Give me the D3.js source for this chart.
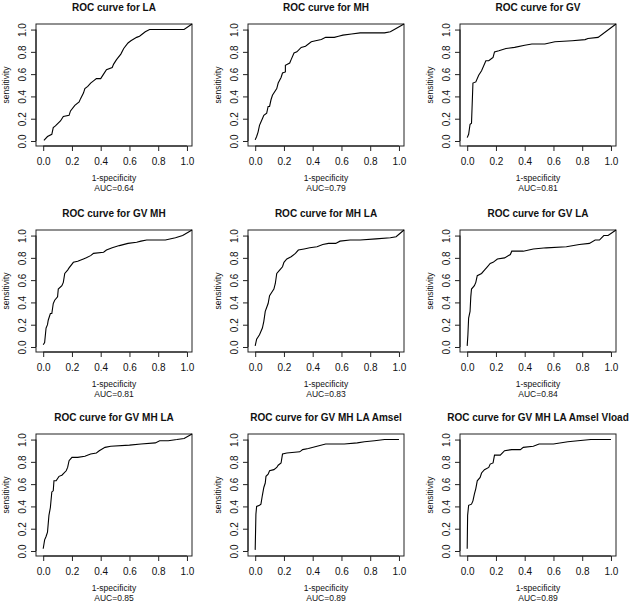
<!DOCTYPE html>
<html>
<head>
<meta charset="utf-8">
<script src="https://cdn.jsdelivr.net/npm/d3@7"></script>
<style>
  body { margin: 0; background: #fff; }
  text { font-family: "Liberation Sans", Arial, sans-serif; fill: #111; }
</style>
</head>
<body>
<svg id="chart" width="632" height="604"></svg>
<script>
// titres et AUC des 9 panneaux
const titles = ["ROC curve for LA", "ROC curve for MH", "ROC curve for GV",
  "ROC curve for GV MH", "ROC curve for MH LA", "ROC curve for GV LA",
  "ROC curve for GV MH LA", "ROC curve for GV MH LA Amsel", "ROC curve for GV MH LA Amsel Vload"];
const aucs = ["0.64", "0.79", "0.81", "0.81", "0.83", "0.84", "0.85", "0.89", "0.89"];
const ticks = [0, 0.2, 0.4, 0.6, 0.8, 1.0];

// courbes [1-specificity, sensitivity]
const rocLA = [[0.005,0.006],[0.03,0.04],[0.06,0.06],[0.07,0.12],[0.085,0.135],[0.12,0.18],[0.14,0.22],[0.18,0.23],[0.19,0.27],[0.22,0.32],[0.25,0.35],[0.26,0.38],[0.28,0.43],[0.29,0.47],[0.31,0.49],[0.33,0.52],[0.35,0.54],[0.37,0.56],[0.40,0.56],[0.42,0.60],[0.44,0.64],[0.48,0.66],[0.49,0.69],[0.51,0.73],[0.54,0.78],[0.56,0.83],[0.59,0.88],[0.61,0.90],[0.65,0.93],[0.67,0.94],[0.71,0.98],[0.74,1.0],[0.80,1.0],[0.98,1.0],[1.035,1.05]];
const rocMH = [[0,0.01],[0.01,0.04],[0.02,0.08],[0.03,0.14],[0.04,0.17],[0.05,0.20],[0.06,0.23],[0.08,0.25],[0.09,0.31],[0.10,0.31],[0.11,0.37],[0.12,0.41],[0.15,0.47],[0.16,0.52],[0.18,0.57],[0.19,0.61],[0.21,0.62],[0.21,0.68],[0.24,0.70],[0.25,0.73],[0.27,0.79],[0.29,0.80],[0.32,0.84],[0.35,0.85],[0.39,0.89],[0.42,0.90],[0.46,0.91],[0.49,0.93],[0.55,0.93],[0.58,0.94],[0.61,0.95],[0.67,0.96],[0.73,0.97],[0.90,0.97],[0.94,0.98],[0.98,1.01],[1.035,1.05]];
const rocGV = [[0,0.03],[0.01,0.06],[0.02,0.15],[0.03,0.16],[0.04,0.52],[0.06,0.53],[0.08,0.59],[0.10,0.63],[0.13,0.72],[0.15,0.72],[0.17,0.74],[0.18,0.75],[0.19,0.80],[0.22,0.81],[0.27,0.83],[0.33,0.84],[0.40,0.86],[0.45,0.87],[0.54,0.87],[0.61,0.89],[0.73,0.90],[0.82,0.91],[0.84,0.92],[0.91,0.93],[1.035,1.05]];
const rocGVMH = [[0,0.02],[0.01,0.04],[0.02,0.17],[0.03,0.20],[0.035,0.24],[0.05,0.30],[0.06,0.30],[0.07,0.39],[0.08,0.42],[0.10,0.45],[0.105,0.52],[0.13,0.55],[0.14,0.58],[0.15,0.66],[0.17,0.69],[0.18,0.71],[0.21,0.76],[0.24,0.77],[0.28,0.79],[0.30,0.80],[0.33,0.82],[0.35,0.84],[0.42,0.85],[0.44,0.87],[0.48,0.89],[0.53,0.91],[0.59,0.93],[0.65,0.94],[0.68,0.95],[0.72,0.96],[0.85,0.96],[0.92,0.98],[0.97,1.0],[1.035,1.05]];
const rocMHLA = [[0,0.01],[0.01,0.07],[0.03,0.11],[0.05,0.17],[0.06,0.23],[0.07,0.32],[0.09,0.39],[0.10,0.46],[0.12,0.50],[0.13,0.52],[0.14,0.57],[0.15,0.66],[0.17,0.69],[0.19,0.72],[0.20,0.76],[0.22,0.79],[0.25,0.81],[0.28,0.84],[0.30,0.87],[0.34,0.88],[0.38,0.89],[0.43,0.90],[0.47,0.92],[0.51,0.93],[0.56,0.93],[0.59,0.95],[0.66,0.96],[0.73,0.96],[0.84,0.97],[0.94,0.98],[0.98,0.99],[1.035,1.05]];
const rocGVLA = [[0,0.01],[0.005,0.11],[0.01,0.26],[0.02,0.32],[0.025,0.45],[0.03,0.52],[0.05,0.55],[0.06,0.58],[0.07,0.64],[0.10,0.66],[0.12,0.69],[0.14,0.72],[0.16,0.75],[0.18,0.76],[0.21,0.79],[0.26,0.80],[0.30,0.83],[0.31,0.86],[0.39,0.86],[0.46,0.88],[0.55,0.89],[0.69,0.90],[0.78,0.92],[0.85,0.93],[0.89,0.96],[0.92,0.96],[0.95,1.0],[0.98,1.0],[1.035,1.05]];
const rocGVMHLA = [[0,0.02],[0.01,0.10],[0.02,0.13],[0.03,0.17],[0.04,0.32],[0.05,0.39],[0.06,0.53],[0.07,0.54],[0.075,0.63],[0.09,0.63],[0.11,0.67],[0.13,0.68],[0.16,0.72],[0.17,0.75],[0.18,0.81],[0.20,0.84],[0.24,0.84],[0.29,0.85],[0.33,0.87],[0.37,0.88],[0.39,0.90],[0.43,0.93],[0.47,0.94],[0.60,0.95],[0.68,0.96],[0.78,0.97],[0.81,0.99],[0.87,0.99],[0.93,1.0],[0.98,1.01],[1.035,1.05]];
const rocAmsel = [[0,0.01],[0.005,0.33],[0.01,0.40],[0.03,0.41],[0.04,0.42],[0.05,0.50],[0.06,0.57],[0.07,0.61],[0.075,0.67],[0.09,0.69],[0.10,0.72],[0.13,0.73],[0.15,0.75],[0.16,0.77],[0.18,0.79],[0.19,0.87],[0.22,0.88],[0.31,0.89],[0.33,0.91],[0.37,0.92],[0.43,0.94],[0.49,0.96],[0.62,0.96],[0.71,0.97],[0.76,0.98],[0.83,0.99],[0.90,1.0],[1.0,1.0]];
const rocVload = [[0,0.02],[0.003,0.32],[0.01,0.41],[0.03,0.42],[0.04,0.45],[0.05,0.51],[0.06,0.56],[0.07,0.63],[0.09,0.66],[0.10,0.70],[0.12,0.73],[0.15,0.75],[0.16,0.78],[0.18,0.79],[0.19,0.86],[0.23,0.86],[0.26,0.90],[0.31,0.91],[0.37,0.91],[0.39,0.93],[0.46,0.94],[0.50,0.96],[0.60,0.96],[0.70,0.98],[0.77,0.99],[0.86,1.0],[1.0,1.0]];

const curves = [rocLA, rocMH, rocGV, rocGVMH, rocMHLA, rocGVLA, rocGVMHLA, rocAmsel, rocVload];

// mise en page
const colLeft = [36, 248, 460];
const rowTop = [24, 230, 434];
const boxW = 156, boxH = 122;

const svg = d3.select("#chart");

curves.forEach((data, i) => {
    const left = colLeft[i % 3];
    const top = rowTop[Math.floor(i / 3)];

    const x = d3.scaleLinear().domain([-0.05, 1.035]).range([0, boxW]);
    const y = d3.scaleLinear().domain([-0.045, 1.05]).range([boxH, 0]);

    const g = svg.append("g").attr("transform", "translate(" + left + "," + top + ")");

    // titre
    g.append("text")
        .attr("x", boxW / 2).attr("y", -13)
        .attr("text-anchor", "middle")
        .style("font-size", "10px").style("font-weight", "bold")
        .text(titles[i]);

    // axe X
    const xAxis = d3.axisBottom(x).tickValues(ticks).tickFormat(d3.format(".1f")).tickSize(5).tickPadding(7);
    const gx = g.append("g").attr("transform", "translate(0," + boxH + ")").call(xAxis);
    gx.select(".domain").attr("d", "M" + x(0) + ",0H" + x(1));
    gx.selectAll("text").style("font-size", "10px").attr("fill", "#111");

    // axe Y, étiquettes verticales comme R
    const yAxis = d3.axisLeft(y).tickValues(ticks).tickFormat(d3.format(".1f")).tickSize(5).tickPadding(0);
    const gy = g.append("g").call(yAxis);
    gy.select(".domain").attr("d", "M0," + y(0) + "V" + y(1));
    gy.selectAll("text")
        .attr("x", 0).attr("dy", null)
        .attr("text-anchor", "middle")
        .attr("transform", "translate(-10,0) rotate(-90)")
        .style("font-size", "10px").attr("fill", "#111");
    g.selectAll(".tick line").attr("stroke", "#222");

    // cadre
    g.append("rect")
        .attr("width", boxW).attr("height", boxH)
        .attr("fill", "none").attr("stroke", "#222").attr("stroke-width", 1);

    // courbe ROC
    const line = d3.line().x(d => x(d[0])).y(d => y(d[1]));
    g.append("path")
        .datum(data)
        .attr("d", line)
        .attr("fill", "none").attr("stroke", "#000").attr("stroke-width", 1.1);

    // libellés
    g.append("text")
        .attr("transform", "translate(-27," + (boxH / 2) + ") rotate(-90)")
        .attr("text-anchor", "middle")
        .style("font-size", "8.5px")
        .text("sensitivity");
    g.append("text")
        .attr("x", boxW / 2).attr("y", boxH + 35)
        .attr("text-anchor", "middle").style("font-size", "8.5px")
        .text("1-specificity");
    g.append("text")
        .attr("x", boxW / 2).attr("y", boxH + 45)
        .attr("text-anchor", "middle").style("font-size", "8.5px")
        .text("AUC=" + aucs[i]);
});
</script>
</body>
</html>
